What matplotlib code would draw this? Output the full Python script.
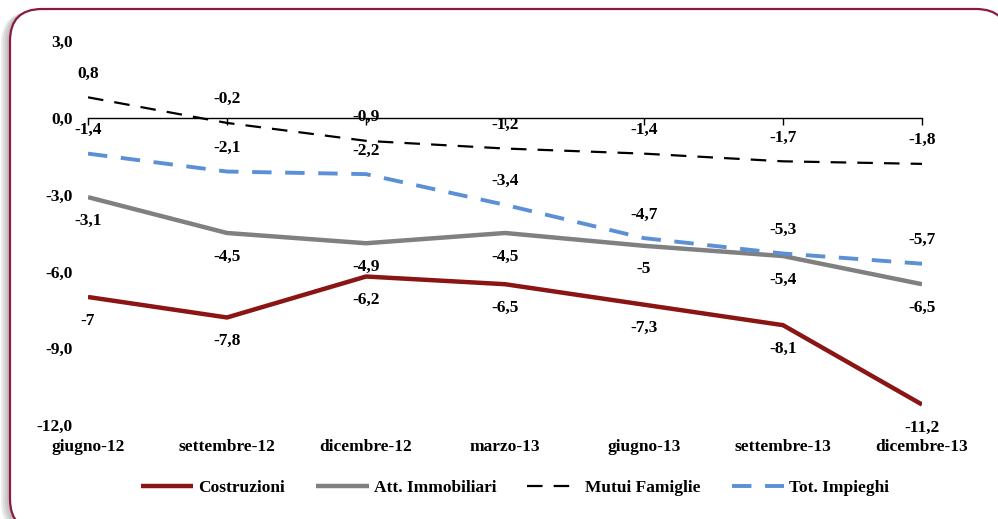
import numpy as np
import matplotlib
matplotlib.use('Agg')
import matplotlib.pyplot as plt
from matplotlib.patches import FancyBboxPatch

plt.rcParams['font.family'] = ['Liberation Serif', 'DejaVu Serif']
plt.rcParams['font.weight'] = 'bold'

periodi = ['giugno-12', 'settembre-12', 'dicembre-12', 'marzo-13',
           'giugno-13', 'settembre-13', 'dicembre-13']
costruzioni = [-7, -7.8, -6.2, -6.5, -7.3, -8.1, -11.2]
att_immobiliari = [-3.1, -4.5, -4.9, -4.5, -5, -5.4, -6.5]
mutui_famiglie = [0.8, -0.2, -0.9, -1.2, -1.4, -1.7, -1.8]
tot_impieghi = [-1.4, -2.1, -2.2, -3.4, -4.7, -5.3, -5.7]
y_ticks = [3, 0, -3, -6, -9, -12]

fs = 12.5
fig = plt.figure(figsize=(9.98, 5.19), dpi=100)

# rounded frame with a soft grey shadow on the left
for off in [0.09, 0.07, 0.05, 0.03]:
    sh = FancyBboxPatch((0.10 - off, -0.12 - off * 0.3), 9.98, 5.22,
                        boxstyle='round,pad=0,rounding_size=0.32',
                        transform=fig.dpi_scale_trans, fc='#707070', ec='none',
                        alpha=0.13, zorder=-3)
    fig.patches.append(sh)
frame = FancyBboxPatch((0.10, -0.12), 9.98, 5.22,
                       boxstyle='round,pad=0,rounding_size=0.32',
                       transform=fig.dpi_scale_trans, fc='white', ec='#8B1A3E',
                       lw=1.6, zorder=-2)
fig.patches.append(frame)

ax = fig.add_axes([88 / 998, 1 - 425 / 519, (922 - 88) / 998, (425 - 41) / 519])
ax.set_facecolor('none')
ax.set_zorder(2)
x = np.arange(len(periodi))

series = [
    ('Costruzioni', costruzioni, dict(color='#8B1414', lw=3.2, ls='-'), -1),
    ('Att. Immobiliari', att_immobiliari, dict(color='#808080', lw=3.2, ls='-'), -1),
    ('Mutui Famiglie', mutui_famiglie, dict(color='black', lw=1.6, ls=(0, (7, 5))), 1),
    ('Tot. Impieghi', tot_impieghi, dict(color='#5B8FD6', lw=2.8, ls=(0, (5, 3.5))), 1),
]
for name, vals, st, side in series:
    ax.plot(x, vals, label=name, solid_capstyle='butt', dash_capstyle='butt', **st)
    for xi, v in zip(x, vals):
        ax.annotate(f'{v:g}'.replace('.', ','), (xi, v), xytext=(0, 17 * side),
                    textcoords='offset points', ha='center', va='center',
                    fontsize=fs, fontweight='bold', annotation_clip=False)

ax.set_xlim(0, 6)
ax.set_ylim(-12, 3)
ax.set_yticks(y_ticks)
ax.set_yticklabels([f'{t:.1f}'.replace('.', ',') for t in y_ticks])
ax.tick_params(axis='y', length=0, pad=11, labelsize=fs)

for s in ['left', 'right', 'top']:
    ax.spines[s].set_visible(False)
ax.spines['bottom'].set_position(('data', 0))
ax.spines['bottom'].set_linewidth(1.0)
ax.set_xticks(x)
ax.tick_params(axis='x', direction='out', length=5, width=1, labelbottom=False)

sec = ax.secondary_xaxis(0)
sec.set_xticks(x)
sec.set_xticklabels(periodi, fontsize=fs, fontweight='bold')
sec.tick_params(length=0, pad=10)
sec.spines['bottom'].set_visible(False)

leg = fig.legend(loc='center', bbox_to_anchor=(0.516, 1 - 488 / 519), ncol=4,
                 frameon=False, fontsize=fs, handlelength=3.0, columnspacing=1.8,
                 handletextpad=0.3)
for t in leg.get_texts():
    t.set_fontweight('bold')

fig.savefig('out.png', dpi=100)
